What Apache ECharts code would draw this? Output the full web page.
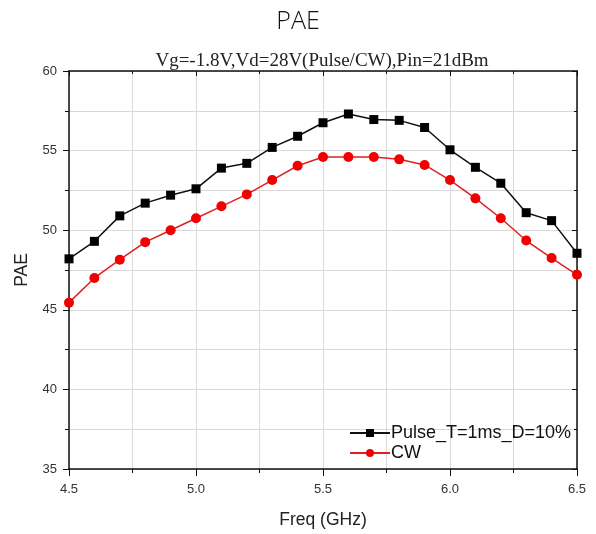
<!DOCTYPE html>
<html>
<head>
<meta charset="utf-8">
<script src="https://cdn.jsdelivr.net/npm/echarts@6/dist/echarts.min.js"></script>
<style>html,body{margin:0;padding:0;background:#fff;}#c{width:596px;height:534px;}</style>
</head>
<body>
<div id="c"></div>
<script>
const freq = [4.5,4.6,4.7,4.8,4.9,5.0,5.1,5.2,5.3,5.4,5.5,5.6,5.7,5.8,5.9,6.0,6.1,6.2,6.3,6.4,6.5];
const pulse = [48.2,49.3,50.9,51.7,52.2,52.6,53.9,54.2,55.2,55.9,56.75,57.3,56.95,56.9,56.45,55.05,53.95,52.95,51.1,50.6,48.55];
const cw = [45.45,47.0,48.15,49.25,50.0,50.75,51.5,52.25,53.15,54.05,54.6,54.6,54.6,54.45,54.1,53.15,52.0,50.75,49.35,48.25,47.2];
const seriesNames = ["Pulse_T=1ms_D=10%", "CW"];
const titleText = "PAE";
const subText = "Vg=-1.8V,Vd=28V(Pulse/CW),Pin=21dBm";

const chart = echarts.init(document.getElementById('c'));
const pair = arr => freq.map((f,i)=>[f,arr[i]]);
const gridLine = {show:true, lineStyle:{color:'#d9d9d9', width:1}};
chart.setOption({
  animation:false,
  backgroundColor:'#fff',
  title:[
    {text:titleText, left:293, top:4, textAlign:'center', textStyle:{fontFamily:'Open Sans', fontWeight:300, fontSize:25, color:'#111'}},
    {text:subText, left:317, top:47, textAlign:'center', textStyle:{fontFamily:'Liberation Serif', fontWeight:'normal', fontSize:19, color:'#222'}}
  ],
  grid:{left:69, right:19, top:71, bottom:65, containLabel:false},
  legend:{
    orient:'vertical', left:344, top:419, itemWidth:40, itemHeight:10, itemGap:2,
    textStyle:{fontFamily:'Liberation Sans', fontSize:18, color:'#111', padding:[0,0,0,-4]},
    data:seriesNames
  },
  xAxis:[{
    type:'value', min:4.5, max:6.5, interval:0.5,
    name:'Freq (GHz)', nameLocation:'middle', nameGap:42,
    nameTextStyle:{fontFamily:'Liberation Sans', fontSize:17.5, color:'#222'},
    axisLine:{show:true, onZero:false, lineStyle:{color:'#111', width:1.5}},
    axisTick:{show:true, inside:false, length:7, lineStyle:{color:'#111'}},
    minorTick:{show:true, splitNumber:2, length:4, lineStyle:{color:'#111'}},
    axisLabel:{fontFamily:'Liberation Sans', fontSize:13, color:'#333', margin:14, formatter:v=>v.toFixed(1)},
    splitLine:gridLine,
    minorSplitLine:gridLine
  },{
    type:'value', position:'top', min:4.5, max:6.5, interval:0.5,
    axisLine:{show:true, lineStyle:{color:'#111', width:1.5}},
    axisTick:{show:true, inside:true, length:5, lineStyle:{color:'#111'}},
    minorTick:{show:true, splitNumber:2, length:3, lineStyle:{color:'#111'}},
    axisLabel:{show:false}, splitLine:{show:false}
  }],
  yAxis:[{
    type:'value', min:35, max:60, interval:5,
    name:'PAE', nameLocation:'middle', nameGap:38, nameRotate:90,
    nameTextStyle:{fontFamily:'Liberation Sans', fontSize:17.5, color:'#222'},
    axisLine:{show:true, onZero:false, lineStyle:{color:'#111', width:1.5}},
    axisTick:{show:true, inside:false, length:6, lineStyle:{color:'#111'}},
    minorTick:{show:true, splitNumber:2, length:4, lineStyle:{color:'#111'}},
    axisLabel:{fontFamily:'Liberation Sans', fontSize:13, color:'#333', margin:12},
    splitLine:gridLine,
    minorSplitLine:gridLine
  },{
    type:'value', position:'right', min:35, max:60, interval:5,
    axisLine:{show:true, lineStyle:{color:'#111', width:1.5}},
    axisTick:{show:true, inside:true, length:5, lineStyle:{color:'#111'}},
    minorTick:{show:true, splitNumber:2, length:3, lineStyle:{color:'#111'}},
    axisLabel:{show:false}, splitLine:{show:false}
  }],
  series:[
    {name:seriesNames[0], type:'line', data:pair(pulse), symbol:'rect', symbolSize:9,
     itemStyle:{color:'#000'}, lineStyle:{color:'#111', width:1.5}},
    {name:seriesNames[1], type:'line', data:pair(cw), symbol:'circle', symbolSize:10,
     itemStyle:{color:'#f00000'}, lineStyle:{color:'#e02020', width:1.5}}
  ]
});
</script>
</body>
</html>
